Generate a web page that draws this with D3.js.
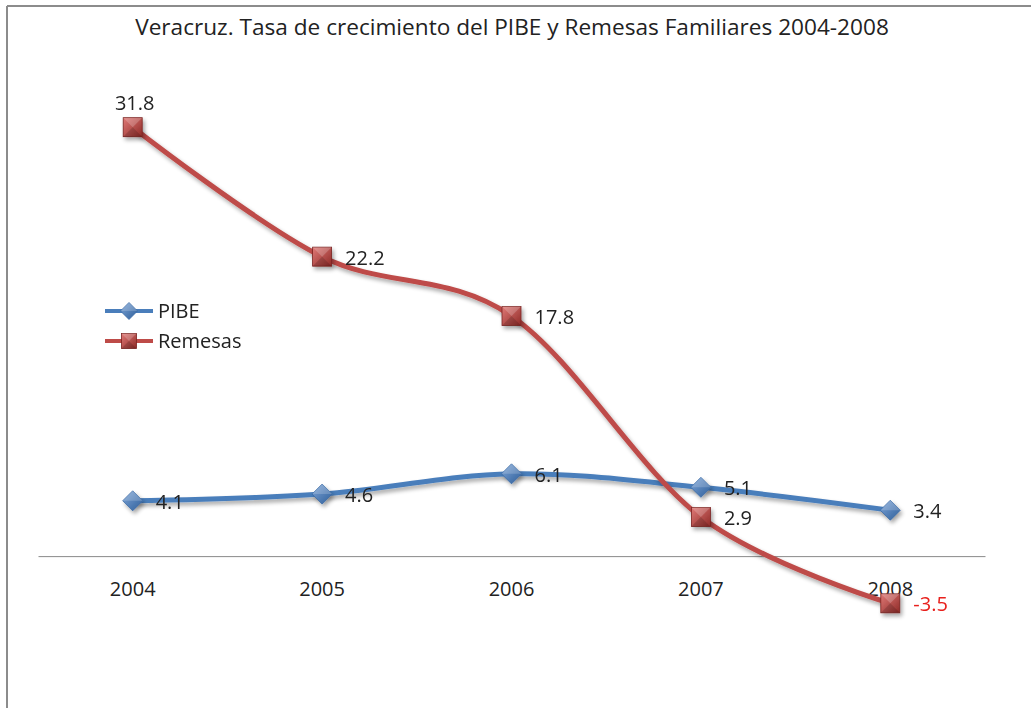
<!DOCTYPE html>
<html>
<head>
<meta charset="utf-8">
<script src="https://cdn.jsdelivr.net/npm/d3@7/dist/d3.min.js"></script>
<style>
  html, body { margin: 0; padding: 0; background: #fff; }
  svg { display: block; }
  text { font-family: "Open Sans", "Noto Sans", sans-serif; }
</style>
</head>
<body>
<svg id="chart" width="1031" height="708"></svg>
<script>
// Growth rates (%) of state GDP (PIBE) and family remittances, Veracruz
const years = ["2004", "2005", "2006", "2007", "2008"];
const pibe = [4.1, 4.6, 6.1, 5.1, 3.4];
const remesas = [31.8, 22.2, 17.8, 2.9, -3.5];
const seriesNames = ["PIBE", "Remesas"];
const titleText = "Veracruz. Tasa de crecimiento del PIBE y Remesas Familiares 2004-2008";

const svg = d3.select("#chart");
const W = 1031, H = 708;

// frame
svg.append("line").attr("x1", 7).attr("x2", W).attr("y1", 6).attr("y2", 6)
  .attr("stroke", "#8c8c8c").attr("stroke-width", 2);
svg.append("line").attr("x1", 7).attr("x2", 7).attr("y1", 6).attr("y2", H)
  .attr("stroke", "#8c8c8c").attr("stroke-width", 2);

const defs = svg.append("defs");
const shadow = defs.append("filter").attr("id", "shadow")
  .attr("x", "-20%").attr("y", "-20%").attr("width", "140%").attr("height", "160%");
shadow.append("feGaussianBlur").attr("in", "SourceAlpha").attr("stdDeviation", 2.2).attr("result", "b");
shadow.append("feOffset").attr("in", "b").attr("dx", 1.5).attr("dy", 3).attr("result", "o");
shadow.append("feComponentTransfer").attr("in", "o").attr("result", "s")
  .append("feFuncA").attr("type", "linear").attr("slope", 0.35);
const merge = shadow.append("feMerge");
merge.append("feMergeNode").attr("in", "s");
merge.append("feMergeNode").attr("in", "SourceGraphic");

function grad(id, c1, c2) {
  const g = defs.append("linearGradient").attr("id", id)
    .attr("x1", "0").attr("y1", "0").attr("x2", "1").attr("y2", "1");
  g.append("stop").attr("offset", "0").attr("stop-color", c1);
  g.append("stop").attr("offset", "1").attr("stop-color", c2);
}
grad("gBlue", "#7fa6d8", "#2f5f9a");
grad("gRed", "#e07a77", "#8e2a27");

const colors = { PIBE: "#4a7ebb", Remesas: "#be4b48" };

// scales
const x = d3.scaleBand().domain(years).range([38, 985]);
const cx = d => x(d) + x.bandwidth() / 2;
const y = d3.scaleLinear().domain([-10, 35]).range([691, 84]);

// title
const title = svg.append("text").attr("x", 512).attr("y", 35)
  .attr("text-anchor", "middle").attr("font-size", 19).attr("fill", "#222")
  .text(titleText);
const tw = title.node().getComputedTextLength();
title.attr("font-size", 19 * 754 / tw);

// category axis at zero
const axis = d3.axisBottom(x).tickSize(0).tickPadding(26);
const gx = svg.append("g").attr("transform", `translate(0,${y(0)})`).call(axis);
gx.select(".domain").attr("stroke", "#8a8a8a").attr("stroke-width", 1);
gx.selectAll("text").attr("font-size", 20).attr("fill", "#222")
  .style("font-family", "'Open Sans', sans-serif");

const line = d3.line().x((d, i) => cx(years[i])).y(d => y(d))
  .curve(d3.curveCardinal.tension(0));

function diamond(g, px, py, s) {
  g.append("path")
    .attr("d", `M${px},${py - s}L${px + s},${py}L${px},${py + s}L${px - s},${py}Z`)
    .attr("fill", "url(#gBlue)").attr("stroke", "#3a6aa5").attr("stroke-width", 0.8);
  g.append("path")
    .attr("d", `M${px - s},${py}L${px},${py - s}L${px + s},${py}Z`)
    .attr("fill", "#ffffff").attr("opacity", 0.18);
}
function square(g, px, py, s) {
  g.append("rect").attr("x", px - s).attr("y", py - s).attr("width", 2 * s).attr("height", 2 * s)
    .attr("fill", "url(#gRed)").attr("stroke", "#7a2421").attr("stroke-width", 0.8);
  g.append("path")
    .attr("d", `M${px - s},${py - s}L${px + s},${py - s}L${px},${py}Z`)
    .attr("fill", "#ffffff").attr("opacity", 0.2);
  g.append("path")
    .attr("d", `M${px - s},${py + s}L${px + s},${py + s}L${px},${py}Z`)
    .attr("fill", "#000000").attr("opacity", 0.15);
}

// series lines
[[pibe, "PIBE"], [remesas, "Remesas"]].forEach(([vals, name]) => {
  svg.append("path").datum(vals).attr("d", line)
    .attr("fill", "none").attr("stroke", colors[name]).attr("stroke-width", 5)
    .attr("stroke-linecap", "round").attr("filter", "url(#shadow)");
});

// markers
const mk = svg.append("g").attr("filter", "url(#shadow)");
pibe.forEach((v, i) => diamond(mk, cx(years[i]), y(v), 10));
remesas.forEach((v, i) => square(mk, cx(years[i]), y(v), 9.5));

// data labels
const labels = svg.append("g").attr("font-size", 20);
pibe.forEach((v, i) => {
  labels.append("text").attr("x", cx(years[i]) + 23).attr("y", y(v) + 8)
    .attr("fill", "#222").text(v.toFixed(1));
});
remesas.forEach((v, i) => {
  const px = cx(years[i]), py = y(v);
  if (i === 0) {
    labels.append("text").attr("x", px + 2).attr("y", py - 17).attr("text-anchor", "middle")
      .attr("fill", "#222").text(v.toFixed(1));
  } else {
    labels.append("text").attr("x", px + 23).attr("y", py + 8)
      .attr("fill", v < 0 ? "#e8201c" : "#222").text(v.toFixed(1));
  }
});

// legend
const lg = svg.append("g");
seriesNames.forEach((name, i) => {
  const ly = 311 + i * 30;
  lg.append("line").attr("x1", 105).attr("x2", 153).attr("y1", ly).attr("y2", ly)
    .attr("stroke", colors[name]).attr("stroke-width", 4);
  if (name === "PIBE") diamond(lg, 129, ly, 8.5); else square(lg, 129, ly, 7.5);
  lg.append("text").attr("x", 158).attr("y", ly + 7).attr("font-size", 20)
    .attr("fill", "#222").text(name);
});
</script>
</body>
</html>
